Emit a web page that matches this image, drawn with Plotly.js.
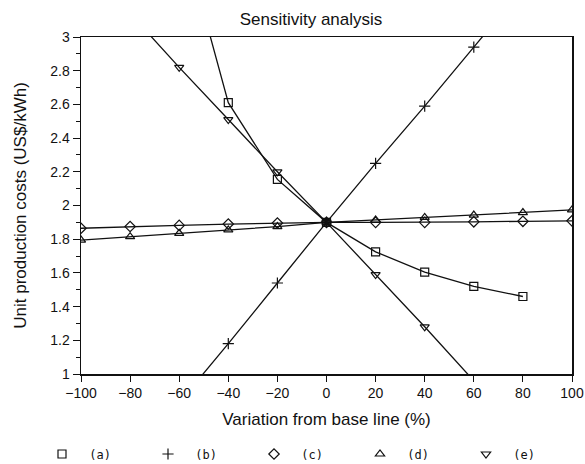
<!DOCTYPE html>
<html>
<head>
<meta charset="utf-8">
<script src="https://cdn.plot.ly/plotly-3.0.1.min.js"></script>
<style>html,body{margin:0;padding:0;background:#fff;}</style>
</head>
<body>
<div id="chart" style="width:585px;height:464px;"></div>
<script>
// Variation from base line (%)
const xA = [-60, -40, -20, 0, 20, 40, 60, 80];
const yA = [3.68, 2.61, 2.155, 1.9, 1.725, 1.605, 1.52, 1.46];
const xB = [-60, -40, -20, 0, 20, 40, 60, 80];
const yB = [0.83, 1.18, 1.54, 1.9, 2.25, 2.59, 2.94, 3.29];
const xC = [-100, -80, -60, -40, -20, 0, 20, 40, 60, 80, 100];
const yC = [1.865, 1.875, 1.882, 1.89, 1.896, 1.9, 1.9, 1.9, 1.903, 1.906, 1.909];
const xD = [-100, -80, -60, -40, -20, 0, 20, 40, 60, 80, 100];
const yD = [1.795, 1.815, 1.835, 1.855, 1.875, 1.9, 1.914, 1.929, 1.943, 1.958, 1.974];
const xE = [-80, -60, -40, -20, 0, 20, 40, 60];
const yE = [3.14, 2.82, 2.51, 2.2, 1.9, 1.59, 1.28, 0.96];

const seriesNames = ["(a)", "(b)", "(c)", "(d)", "(e)"];
const symbols = ["square-open", "cross-thin-open", "diamond-open", "triangle-up-open", "triangle-down-open"];
const xs = [xA, xB, xC, xD, xE];
const ys = [yA, yB, yC, yD, yE];

const traces = [];
for (let i = 0; i < xs.length; i++) {
  traces.push({
    x: xs[i], y: ys[i], type: "scatter", mode: "lines",
    line: {color: "#111", width: 1.3},
    showlegend: false, hoverinfo: "skip"
  });
}
for (let i = 0; i < xs.length; i++) {
  traces.push({
    x: xs[i], y: ys[i], type: "scatter", mode: "markers",
    name: "\u00a0" + seriesNames[i],
    marker: {symbol: symbols[i], size: 8, color: "#111", line: {color: "#111", width: 1.2}},
    cliponaxis: true
  });
}

const layout = {
  width: 585, height: 464,
  margin: {l: 81, r: 13, t: 37, b: 90, autoexpand: false},
  paper_bgcolor: "#fff", plot_bgcolor: "#fff",
  font: {family: "Liberation Sans, Arial, sans-serif", color: "#111", size: 14},
  title: {text: "Sensitivity analysis", x: 311/585, xref: "container", xanchor: "center",
          y: 1 - 19/464, yref: "container", yanchor: "middle",
          font: {size: 17, color: "#111"}},
  xaxis: {
    range: [-100, 100], tickmode: "linear", tick0: -100, dtick: 20,
    ticks: "outside", ticklen: 6, tickwidth: 1, tickcolor: "#111",
    showline: true, linecolor: "#111", linewidth: 1.5, mirror: true,
    showgrid: false, zeroline: false,
    tickfont: {size: 14},
    title: {text: "Variation from base line (%)", font: {size: 17}, standoff: 13},
    automargin: false
  },
  yaxis: {
    range: [1, 3], tickmode: "linear", tick0: 1, dtick: 0.2,
    ticks: "outside", ticklen: 7, tickwidth: 1, tickcolor: "#111",
    minor: {dtick: 0.1, ticks: "outside", ticklen: 4, tickcolor: "#111", showgrid: false},
    showline: true, linecolor: "#111", linewidth: 1.5, mirror: true,
    showgrid: false, zeroline: false,
    tickfont: {size: 14},
    title: {text: "Unit production costs (US$/kWh)", font: {size: 17}, standoff: 19},
    automargin: false
  },
  showlegend: true,
  legend: {
    orientation: "h", xref: "paper", yref: "paper",
    x: (42 - 81) / 491, xanchor: "left", y: -(454 - 374) / 337, yanchor: "middle",
    font: {family: "DejaVu Sans Mono, monospace", size: 12, color: "#111"},
    entrywidth: 61, entrywidthmode: "pixels",
    bgcolor: "rgba(0,0,0,0)", borderwidth: 0
  }
};

Plotly.newPlot("chart", traces, layout, {displayModeBar: false, staticPlot: true});
</script>
</body>
</html>
